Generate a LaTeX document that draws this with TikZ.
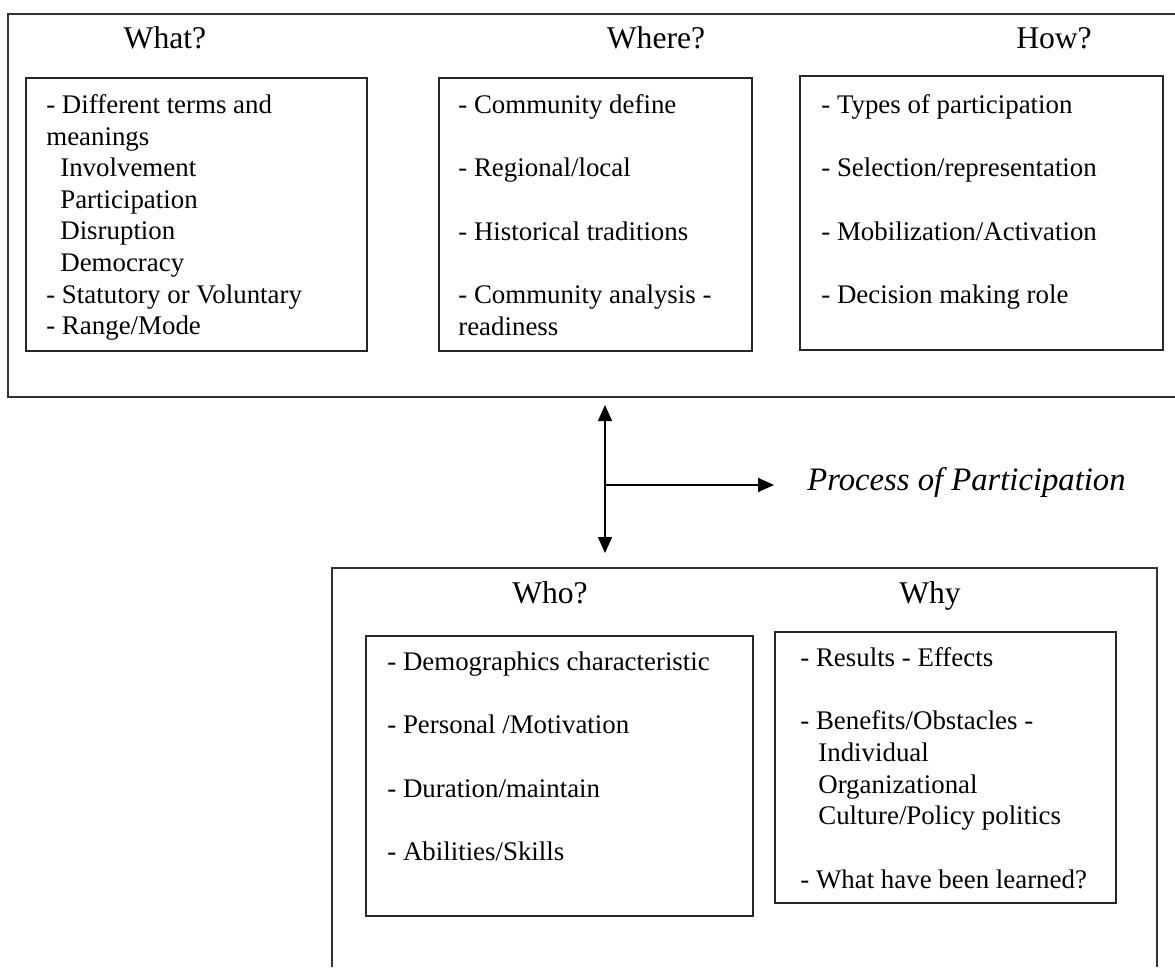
\documentclass[tikz,border=0pt]{standalone}
\usepackage{fontspec}
\setmainfont{Liberation Serif}
\usetikzlibrary{arrows.meta}

\begin{document}
\begin{tikzpicture}[
  x=0.02cm, y=-0.02cm,
  frame/.style={draw=black!80, line width=0.9pt},
  listbox/.style={draw=black!85, line width=1pt, anchor=north west, inner sep=0pt},
  head/.style={anchor=base, font=\fontsize{18}{21}\selectfont},
  items/.style={anchor=north west, inner sep=0pt, align=left, font=\fontsize{15.3}{18}\selectfont},
  tip/.style={-{Triangle[length=0.32cm,width=0.28cm]}}
]
\useasboundingbox (0,0) rectangle (1175,967);

% upper frame
\draw[frame] (1175,14) -- (8,14) -- (8,397) -- (1175,397);
\node[head] (what) at (165,48) {What?};
\node[head] (where) at (656,48) {Where?};
\node[head] (how) at (1054,48) {How?};

\node[listbox, minimum width=6.82cm, minimum height=5.46cm] (whatbox) at (25,77) {};
\node[listbox, minimum width=6.26cm, minimum height=5.46cm] (wherebox) at (438,77) {};
\node[listbox, minimum width=7.26cm, minimum height=5.48cm] (howbox) at (799,75) {};

\node[items] (whattext) at (46,91) {\strut- Different terms and\\
  meanings\\
  \hspace*{0.28cm}Involvement\\
  \hspace*{0.28cm}Participation\\
  \hspace*{0.28cm}Disruption\\
  \hspace*{0.28cm}Democracy\\
  - Statutory or Voluntary\\
  - Range/Mode};
\node[items] (wheretext) at (458,91) {\strut- Community define\\[0.634cm]
  - Regional/local\\[0.634cm]
  - Historical traditions\\[0.634cm]
  - Community analysis -\\
  readiness};
\node[items] (howtext) at (821,91) {\strut- Types of participation\\[0.634cm]
  - Selection/representation\\[0.634cm]
  - Mobilization/Activation\\[0.634cm]
  - Decision making role};

% arrows
\coordinate (up) at (605,405);
\coordinate (down) at (605,553);
\coordinate (fork) at (605,485);
\coordinate (toward) at (774,485);
\draw[tip, line width=0.9pt, {Triangle[length=0.32cm,width=0.28cm]}-{Triangle[length=0.32cm,width=0.28cm]}] (up) -- (down);
\draw[tip, line width=0.9pt] (fork) -- (toward);
\node[anchor=base west, inner sep=0pt, font=\fontsize{18.6}{22}\selectfont\itshape] (process) at (807,490) {Process of Participation};

% lower frame
\draw[frame] (332,967) -- (332,568) -- (1157,568) -- (1157,967);
\node[head] (who) at (550,603) {Who?};
\node[head] (why) at (930,603) {Why};

\node[listbox, minimum width=7.74cm, minimum height=5.6cm] (whobox) at (365,635) {};
\node[listbox, minimum width=6.82cm, minimum height=5.42cm] (whybox) at (774,631) {};

\node[items] (whotext) at (387,648) {\strut- Demographics characteristic\\[0.634cm]
  - Personal /Motivation\\[0.634cm]
  - Duration/maintain\\[0.634cm]
  - Abilities/Skills};
\node[items] (whytext) at (800,644) {\strut- Results - Effects\\[0.634cm]
  - Benefits/Obstacles -\\
  \hspace*{0.36cm}Individual\\
  \hspace*{0.36cm}Organizational\\
  \hspace*{0.36cm}Culture/Policy politics\\[0.634cm]
  - What have been learned?};
\end{tikzpicture}
\end{document}
